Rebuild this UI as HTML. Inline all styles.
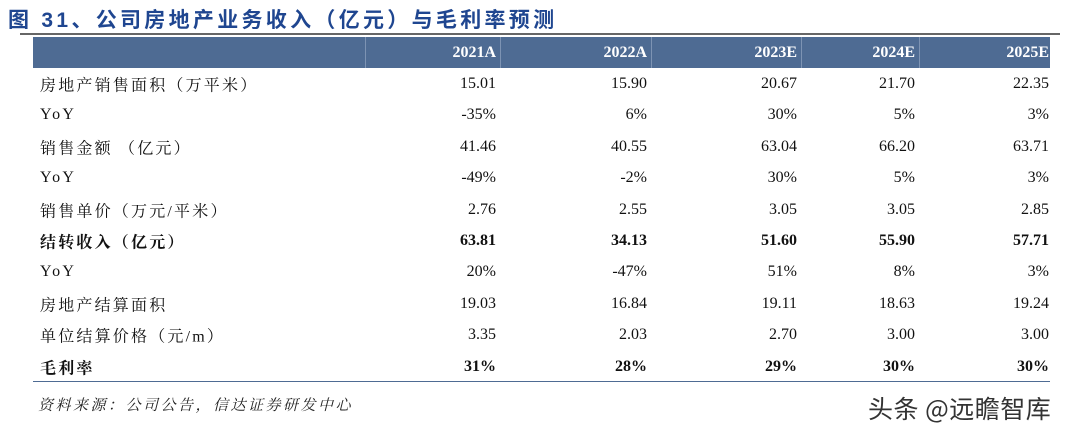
<!DOCTYPE html>
<html><head><meta charset="utf-8"><style>
body{margin:0;width:1080px;height:439px;background:#fff;position:relative;overflow:hidden;font-family:"Liberation Serif","Noto Serif CJK SC",serif;color:#111}
.t{position:absolute;left:8px;top:4px;font:bold 21px "Liberation Sans","Noto Sans CJK SC",sans-serif;color:#1f4690;letter-spacing:3.3px}
.tl{position:absolute;left:20px;top:33px;width:1040px;height:2px;background:#666}
.hd{position:absolute;left:33px;top:37px;width:1017px;height:31px;background:#4e6b93}
.sep{position:absolute;top:37px;width:1px;height:31px;background:#7d93b3}
.c{position:absolute;font-size:16px;white-space:nowrap;transform:translateY(-50%)}
.h{color:#fff;font-weight:bold}
.b{font-weight:bold}
.lab{letter-spacing:2.2px}
.bl{position:absolute;left:33px;top:381px;width:1017px;height:1px;background:#4e6b93}
.src{position:absolute;left:38px;top:394px;font-size:15px;font-style:italic;color:#222;letter-spacing:2.5px}
.wm{position:absolute;left:868px;top:390px;font:25px "Noto Sans CJK SC",sans-serif;color:#333;letter-spacing:0.5px}
</style></head><body>
<div class="t">图 31、公司房地产业务收入（亿元）与毛利率预测</div>
<div class="tl"></div>
<div class="hd"></div>
<div id="tbl"></div>
<div class="bl"></div>
<div class="src">资料来源：公司公告，信达证券研发中心</div>
<div class="wm">头条 @远瞻智库</div>
<script>
const years=["2021A","2022A","2023E","2024E","2025E"];
const labels=["房地产销售面积（万平米）","YoY","销售金额 （亿元）","YoY","销售单价（万元/平米）","结转收入（亿元）","YoY","房地产结算面积","单位结算价格（元/m）","毛利率"];
const bold=[false,false,false,false,false,true,false,false,false,true];
const rows=[
["15.01","15.90","20.67","21.70","22.35"],
["-35%","6%","30%","5%","3%"],
["41.46","40.55","63.04","66.20","63.71"],
["-49%","-2%","30%","5%","3%"],
["2.76","2.55","3.05","3.05","2.85"],
["63.81","34.13","51.60","55.90","57.71"],
["20%","-47%","51%","8%","3%"],
["19.03","16.84","19.11","18.63","19.24"],
["3.35","2.03","2.70","3.00","3.00"],
["31%","28%","29%","30%","30%"]];
const rightEdges=[496,647,797,915,1049];
const seps=[365,500,651,801,919];
const tb=document.getElementById('tbl');
seps.forEach(x=>{const s=document.createElement('div');s.className='sep';s.style.left=x+'px';

tb.appendChild(s);});
years.forEach((y,i)=>{const d=document.createElement('div');d.className='c h';d.textContent=y;
d.style.right=(1080-rightEdges[i])+'px';d.style.top='53px';

tb.appendChild(d);});
labels.forEach((l,r)=>{const top=84+r*31.4;
const d=document.createElement('div');d.className='c lab'+(bold[r]?' b':'');d.textContent=l;d.style.left='40px';d.style.top=top+'px';

tb.appendChild(d);
rows[r].forEach((v,i)=>{const e=document.createElement('div');e.className='c'+(bold[r]?' b':'');e.textContent=v;
e.style.right=(1080-rightEdges[i])+'px';e.style.top=top+'px';

tb.appendChild(e);});});
</script>
</body></html>
